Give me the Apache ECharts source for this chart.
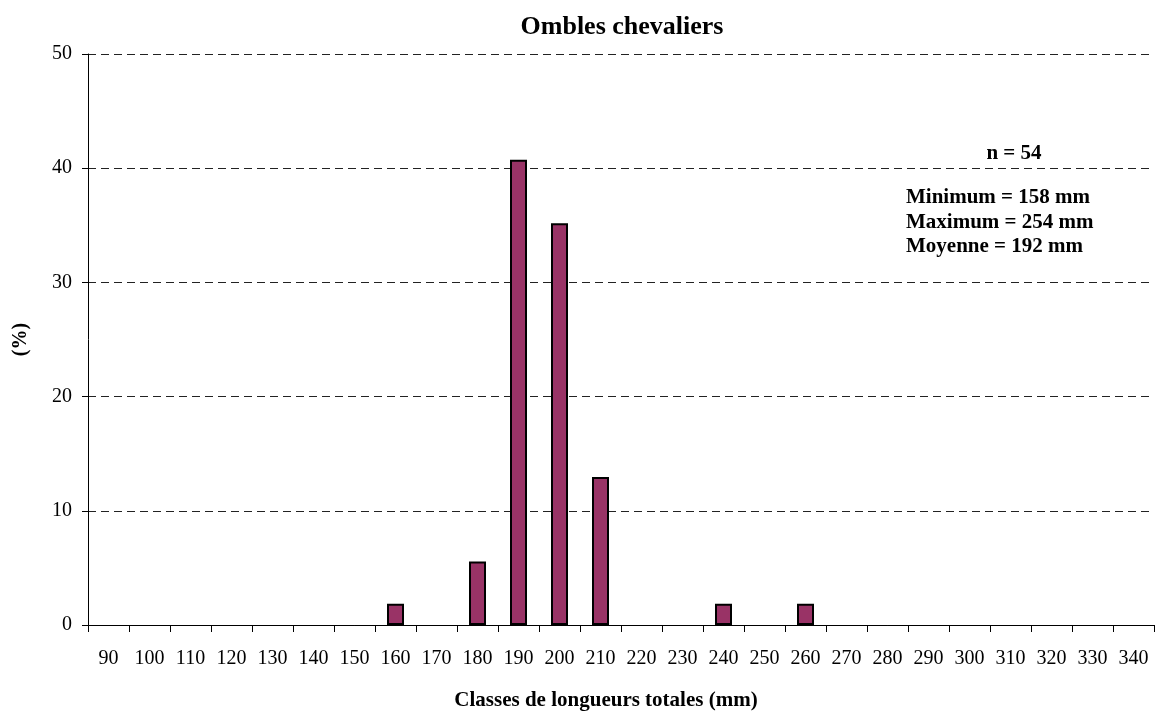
<!DOCTYPE html>
<html>
<head>
<meta charset="utf-8">
<script src="https://cdn.jsdelivr.net/npm/echarts@6/dist/echarts.min.js"></script>
<style>
  html, body { margin: 0; padding: 0; background: #fff; }
  #chart { width: 1157px; height: 712px; }
</style>
</head>
<body>
<div id="chart"></div>
<script>
// classes de longueur (mm) et pourcentages
const classes = ['90', '100', '110', '120', '130', '140', '150', '160', '170', '180', '190', '200', '210',
  '220', '230', '240', '250', '260', '270', '280', '290', '300', '310', '320', '330', '340'];
const pourcentages = [0, 0, 0, 0, 0, 0, 0, 1.85, 0, 5.56, 40.74, 35.19, 12.96,
  0, 0, 1.85, 0, 1.85, 0, 0, 0, 0, 0, 0, 0, 0];
const yTicks = [0, 10, 20, 30, 40, 50];
const nLabel = 'n = 54';
const statsLines = ['Minimum = 158 mm', 'Maximum = 254 mm', 'Moyenne = 192 mm'];

const font = '"Liberation Serif", "Times New Roman", serif';

const chart = echarts.init(document.getElementById('chart'));

// classes vides : pas de barre (sinon la bordure dessine un trait)
const barData = pourcentages.map(v => (v > 0 ? v : '-'));

chart.setOption({
  animation: false,
  backgroundColor: '#fff',
  title: {
    text: 'Ombles chevaliers',
    left: 617, top: 9, textAlign: 'center',
    textStyle: { fontFamily: font, fontSize: 26, fontWeight: 'bold', color: '#000' }
  },
  grid: { left: 88, right: 3, top: 54, bottom: 87, containLabel: false, outerBoundsMode: 'none' },
  xAxis: {
    type: 'category',
    data: classes,
    boundaryGap: true,
    name: 'Classes de longueurs totales (mm)',
    nameLocation: 'middle',
    nameGap: 65,
    nameTextStyle: { fontFamily: font, fontSize: 21, fontWeight: 'bold', color: '#000', padding: [0, 30, 0, 0] },
    axisLine: { lineStyle: { color: '#000', width: 1 } },
    axisTick: { show: true, alignWithLabel: false, length: 7, lineStyle: { color: '#000' } },
    axisLabel: { fontFamily: font, fontSize: 20, color: '#000', margin: 24, interval: 0 },
    splitLine: { show: false }
  },
  yAxis: {
    type: 'value',
    min: 0, max: yTicks[yTicks.length - 1], interval: 10,
    name: '(%)',
    nameLocation: 'middle',
    nameGap: 57,
    nameRotate: 90,
    nameTextStyle: { fontFamily: font, fontSize: 20, fontWeight: 'bold', color: '#000' },
    axisLine: { show: true, lineStyle: { color: '#000', width: 1 } },
    axisTick: { show: true, length: 6, lineStyle: { color: '#000' } },
    axisLabel: { fontFamily: font, fontSize: 20, color: '#000', margin: 16 },
    splitLine: { show: true, lineStyle: { color: '#222', type: [8, 5], width: 1 } }
  },
  series: [{
    type: 'bar',
    data: barData,
    barWidth: 17,
    itemStyle: { color: '#993366', borderColor: '#000', borderWidth: 2 }
  }],
  graphic: [
    {
      type: 'text', x: 1014, y: 154,
      style: { text: nLabel, font: 'bold 21px ' + font, fill: '#000', align: 'center', verticalAlign: 'middle' }
    },
    ...statsLines.map((t, i) => ({
      type: 'text', x: 906, y: 198 + i * 24.5,
      style: { text: t, font: 'bold 21px ' + font, fill: '#000', align: 'left', verticalAlign: 'middle' }
    }))
  ]
});
</script>
</body>
</html>
